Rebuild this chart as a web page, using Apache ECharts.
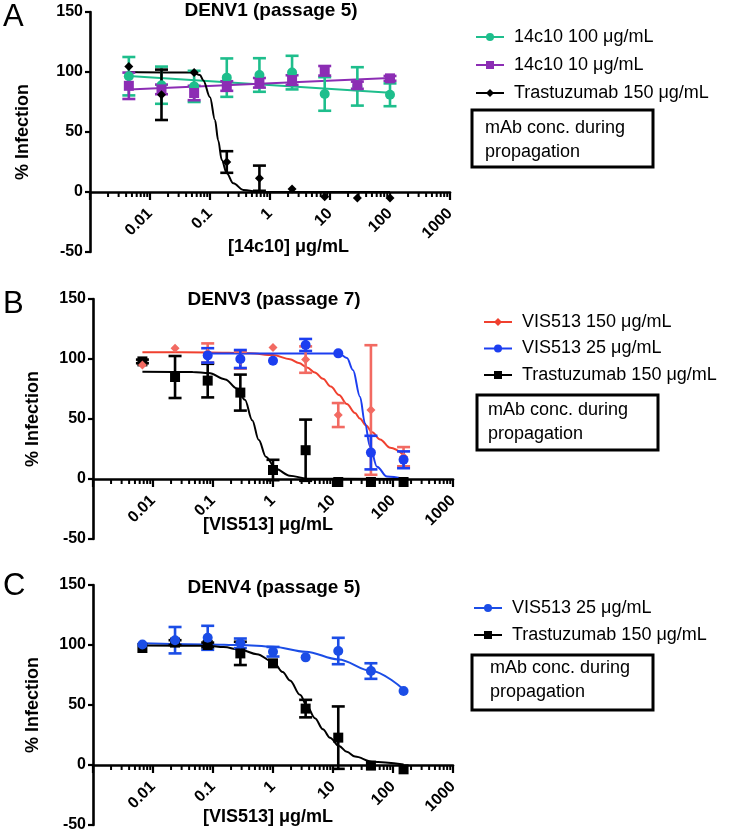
<!DOCTYPE html>
<html>
<head>
<meta charset="utf-8">
<script src="https://cdn.jsdelivr.net/npm/echarts@6/dist/echarts.min.js"></script>
<style>html,body{margin:0;padding:0;background:#fff}#main{width:729px;height:833px}</style>
</head>
<body>
<div id="main"></div>
<script>
// ---------- Panel A: DENV1 (passage 5) ----------
const concA = [0.00444, 0.01554, 0.0544, 0.1904, 0.6664, 2.332, 8.163, 28.57, 100];
const green100A = [96.5, 89, 88, 95.3, 97.5, 99.5, 81.7, 88, 81];
const green100ErrA = [16, 15.5, 13, 16, 14, 14, 14, 16, 9.5];
const purple10A = [88.5, 85.5, 82.5, 88.3, 91, 93.3, 101, 89, 94.7];
const purple10ErrA = [11, 4, 6, 4, 4, 4, 4, 3, 2];
const trastA = [104.5, 81, 99.5, 25, 11.5, 2.5, -4, -5, -5];
const trastErrA = [0, 21, 0, 9, 10.5, 0, 0, 0, 0];
const green100FitA = [[0.00444, 96.7], [100, 82.7]];
const purple10FitA = [[0.00444, 85.5], [100, 95]];
const trastFitA = [[0.00444, 100], [0.052, 99.5], [0.068, 97.5], [0.0773, 93], [0.1, 79], [0.121, 60], [0.137, 43], [0.157, 26.7], [0.19, 15.6], [0.245, 7.2], [0.359, 1.7], [0.68, 0], [100, 0]];

// ---------- Panel B: DENV3 (passage 7) ----------
const concB = [0.00666, 0.0233, 0.0816, 0.2856, 0.9996, 3.499, 12.24, 42.86, 150];
const vis150B = [95, 109, 105, 99, 109.5, 99.5, 53.3, 57.5, 18.6];
const vis150ErrB = [0, 0, 8, 7, 0, 11, 10, 54, 8];
const vis25B = [null, null, 103, 100, 98.6, 111.7, 104.7, 22, 16];
const vis25ErrB = [0, 0, 6, 7.5, 0, 5, 0, 14, 7];
const trastB = [98, 85, 82, 72, 7.5, 24, -2.5, -2.5, -2.5];
const trastErrB = [1.5, 17.5, 14, 15, 8.5, 25.5, 0, 0, 0];
const vis150FitB = [[0.00666, 105.6], [0.0816, 105.5], [0.414, 104.8], [1.0, 103.3], [1.92, 99.8], [2.7, 96.7], [3.7, 93], [5, 88.8], [6.8, 83.5], [9.2, 77], [12.6, 70], [17, 62.5], [23.3, 55], [28, 50.5], [35.7, 44.5], [45, 39], [61, 33], [90, 26], [150, 20]];
const vis25FitB = [[0.0816, 104.5], [12.6, 104.5], [17.1, 100.8], [21.5, 90.8], [28.2, 68.6], [34.1, 46.4], [41.4, 27], [54.1, 10.3], [79.4, 2], [150, 0.3]];
const trastFitB = [[0.00666, 89.4], [0.046, 89.2], [0.085, 88.3], [0.16, 83], [0.25, 75.5], [0.34, 66], [0.45, 49], [0.58, 32.5], [0.76, 18.6], [1.12, 8.3], [1.9, 2.8], [3.7, 0.3], [150, 0]];

// ---------- Panel C: DENV4 (passage 5) ----------
const concC = [0.00666, 0.0233, 0.0816, 0.2856, 0.9996, 3.499, 12.24, 42.86, 150];
const vis25C = [100.4, 104, 106, 101.4, 94.4, 89.7, 95, 78.3, 61.7];
const vis25ErrC = [0, 11, 10, 4, 4, 0, 11, 6.5, 0];
const trastC = [97.5, 102, 100, 93, 84.7, 47, 22.8, -0.5, -3.6];
const trastErrC = [0, 2, 2, 9.7, 0, 7.3, 26, 0, 0];
const vis25FitC = [[0.00666, 101.4], [0.0816, 100.5], [0.2856, 100], [1.0, 98.6], [3.5, 94.4], [12.24, 88], [42.86, 78.6], [150, 63]];
const trastFitC = [[0.00666, 99.5], [0.085, 99.3], [0.15, 98.3], [0.29, 96], [0.54, 92.3], [1.03, 85.5], [1.45, 77.5], [1.92, 70.5], [2.82, 58.5], [3.69, 49], [5, 39], [6.8, 29.8], [8.9, 22.8], [12.6, 15.8], [17, 11], [23.3, 7], [44.7, 2.8], [150, 0.5]];

// ---------- text ----------
const titles = ['DENV1 (passage 5)', 'DENV3 (passage 7)', 'DENV4 (passage 5)'];
const panelLetters = ['A', 'B', 'C'];
const xNames = ['[14c10] \u03bcg/mL', '[VIS513] \u03bcg/mL', '[VIS513] \u03bcg/mL'];
const yName = '% Infection';
const boxText = 'mAb conc. during\npropagation';
const yTicks = [-50, 0, 50, 100, 150];

// minor log ticks (axis decoration: 2..9 in each decade)
const minorTickVals = [];
for (let d = -3; d < 3; d++) for (let m = 2; m < 10; m++) minorTickVals.push(m * Math.pow(10, d));

const FONT = '"Liberation Sans", Arial, Helvetica, sans-serif';
const GREEN = '#1EBE8C', PURPLE = '#8C2DB4', RED = '#F0402F', REDPT = '#F26A62', BLUE = '#1C3EF0', BLUEC = '#1B4DE6', BLACK = '#000';

function pts(conc, vals) { return conc.map((c, i) => vals[i] == null ? null : [c, vals[i]]).filter(Boolean); }
function bars(conc, vals, errs) { return conc.map((c, i) => (vals[i] == null || !errs[i]) ? null : [c, vals[i] - errs[i], vals[i] + errs[i]]).filter(Boolean); }

function curve(name, data, color, symbol, k, smooth) {
  return { type: 'line', name, data, xAxisIndex: k, yAxisIndex: k, smooth: smooth ? 0.35 : false, smoothMonotone: 'x',
    showSymbol: false, symbol, symbolSize: 8, lineStyle: { color, width: 2 }, itemStyle: { color }, z: 3, silent: true, animation: false };
}
function errBars(data, color, k) {
  return { type: 'custom', data, xAxisIndex: k, yAxisIndex: k, encode: { x: 0, y: [1, 2] }, z: 4, silent: true, animation: false,
    renderItem: function (params, api) {
      const x = api.value(0), lo = api.value(1), hi = api.value(2);
      const a = api.coord([x, hi]), b = api.coord([x, lo]);
      const w = 6.5, st = { stroke: color, lineWidth: 2.6 };
      return { type: 'group', children: [
        { type: 'line', shape: { x1: a[0], y1: a[1], x2: b[0], y2: b[1] }, style: st },
        { type: 'line', shape: { x1: a[0] - w, y1: a[1], x2: a[0] + w, y2: a[1] }, style: st },
        { type: 'line', shape: { x1: b[0] - w, y1: b[1], x2: b[0] + w, y2: b[1] }, style: st }
      ] };
    } };
}
function points(data, color, symbol, size, k) {
  return { type: 'scatter', data, xAxisIndex: k, yAxisIndex: k, symbol, symbolSize: size, itemStyle: { color, opacity: 1 }, z: 5, silent: true, animation: false };
}
function minorTicks(k) {
  return { type: 'custom', data: minorTickVals.map(v => [v, 0]), xAxisIndex: k, yAxisIndex: k, z: 1, silent: true, animation: false,
    renderItem: function (params, api) {
      const p = api.coord([api.value(0), 0]);
      return { type: 'line', shape: { x1: p[0], y1: p[1], x2: p[0], y2: p[1] + 5 }, style: { stroke: '#000', lineWidth: 2 } };
    } };
}

const grids = [
  { left: 90, top: 12, width: 360, height: 240, outerBoundsMode: 'none', containLabel: false },
  { left: 93, top: 299, width: 360, height: 240, outerBoundsMode: 'none', containLabel: false },
  { left: 93, top: 585, width: 360, height: 240, outerBoundsMode: 'none', containLabel: false }
];
const yNameGaps = [58, 51, 51];

// x axis sits at y = 0, i.e. 50 of the 200 y-units (= 60 px of 240) above the grid bottom
const xAxes = grids.map((g, k) => ({
  type: 'log', logBase: 10, gridIndex: k, min: 0.001, max: 1000, splitNumber: 6,
  position: 'bottom', offset: -g.height * 50 / 200,
  axisLine: { onZero: false, lineStyle: { color: '#000', width: 2.6 } },
  axisTick: { show: true, length: 8, lineStyle: { color: '#000', width: 2.2 } },
  axisLabel: { rotate: 45, margin: 19, color: '#000', fontSize: 16, fontWeight: 'bold', fontFamily: FONT,
    formatter: v => v < 0.005 ? '' : String(Math.round(v * 1000) / 1000) },
  splitLine: { show: false }
}));
const yAxes = grids.map((g, k) => ({
  type: 'value', gridIndex: k, min: yTicks[0], max: yTicks[yTicks.length - 1], interval: 50,
  axisLine: { show: true, onZero: false, lineStyle: { color: '#000', width: 2.6 } },
  axisTick: { show: true, length: 5, lineStyle: { color: '#000', width: 2.2 } },
  axisLabel: { margin: 7, color: '#000', fontSize: 16, fontWeight: 'bold', fontFamily: FONT },
  splitLine: { show: false },
  name: yName, nameLocation: 'middle', nameGap: yNameGaps[k],
  nameTextStyle: { color: '#000', fontSize: 18, fontWeight: 'bold', fontFamily: FONT }
}));

const series = [
  // A
  curve('14c10 100 \u03bcg/mL', green100FitA, GREEN, 'circle', 0, false),
  curve('14c10 10 \u03bcg/mL', purple10FitA, PURPLE, 'rect', 0, false),
  curve('Trastuzumab 150 \u03bcg/mL ', trastFitA, BLACK, 'diamond', 0, true),
  errBars(bars(concA, green100A, green100ErrA), GREEN, 0),
  errBars(bars(concA, purple10A, purple10ErrA), PURPLE, 0),
  errBars(bars(concA, trastA, trastErrA), BLACK, 0),
  points(pts(concA, green100A), GREEN, 'circle', 10, 0),
  points(pts(concA, purple10A), PURPLE, 'rect', 10, 0),
  points(pts(concA, trastA), BLACK, 'diamond', 9, 0),
  minorTicks(0),
  // B
  curve('VIS513 150 \u03bcg/mL', vis150FitB, RED, 'diamond', 1, true),
  curve('VIS513 25 \u03bcg/mL', vis25FitB, BLUE, 'circle', 1, true),
  curve('Trastuzumab 150 \u03bcg/mL', trastFitB, BLACK, 'rect', 1, true),
  errBars(bars(concB, trastB, trastErrB), BLACK, 1),
  errBars(bars(concB, vis150B, vis150ErrB), REDPT, 1),
  errBars(bars(concB, vis25B, vis25ErrB), BLUE, 1),
  points(pts(concB, trastB), BLACK, 'rect', 10, 1),
  points(pts(concB, vis150B), REDPT, 'diamond', 9, 1),
  points(pts(concB, vis25B), BLUE, 'circle', 10, 1),
  minorTicks(1),
  // C
  curve('VIS513 25 \u03bcg/mL  ', vis25FitC, BLUEC, 'circle', 2, true),
  curve('Trastuzumab 150 \u03bcg/mL  ', trastFitC, BLACK, 'rect', 2, true),
  errBars(bars(concC, trastC, trastErrC), BLACK, 2),
  errBars(bars(concC, vis25C, vis25ErrC), BLUEC, 2),
  points(pts(concC, trastC), BLACK, 'rect', 10, 2),
  points(pts(concC, vis25C), BLUEC, 'circle', 10, 2),
  minorTicks(2)
];

function legend(names, left, top, gap) {
  return { data: names, left, top, orient: 'vertical', itemWidth: 28, itemHeight: 10, itemGap: gap, selectedMode: false,
    textStyle: { color: '#000', fontSize: 18, fontFamily: FONT, lineHeight: 20, padding: [0, 0, 0, 5] } };
}

const graphic = [];
const letterTops = [2, 289, 571];
panelLetters.forEach((L, k) => graphic.push({ type: 'text', left: 3, top: letterTops[k], style: { text: L, fontSize: 31, fontFamily: FONT, fill: '#000' } }));
// x-axis titles (placed under each axis)
const xNamePos = [[228, 238], [203, 516], [203, 808]];
xNames.forEach((t, k) => graphic.push({ type: 'text', x: xNamePos[k][0], y: xNamePos[k][1], style: { text: t, fontSize: 18, fontWeight: 'bold', fontFamily: FONT, fill: '#000' } }));
const boxes = [[472, 110, 181, 57, 485, 116], [477, 395, 181, 55, 488, 398], [472, 655, 181, 55, 490, 656]];
boxes.forEach(b => {
  graphic.push({ type: 'rect', shape: { x: b[0], y: b[1], width: b[2], height: b[3] }, style: { fill: 'none', stroke: '#000', lineWidth: 3 } });
  graphic.push({ type: 'text', x: b[4], y: b[5], style: { text: boxText, fontSize: 18, lineHeight: 24, fontFamily: FONT, fill: '#000' } });
});

const TSTYLE = { fontSize: 19, fontWeight: 'bold', fontFamily: FONT, color: '#000' };
const option = {
  backgroundColor: '#fff',
  animation: false,
  title: [
    { text: titles[0], left: 271, top: 1, textAlign: 'center', padding: 0, textStyle: TSTYLE },
    { text: titles[1], left: 274, top: 290, textAlign: 'center', padding: 0, textStyle: TSTYLE },
    { text: titles[2], left: 274, top: 578, textAlign: 'center', padding: 0, textStyle: TSTYLE }
  ],
  grid: grids,
  xAxis: xAxes,
  yAxis: yAxes,
  legend: [
    legend(['14c10 100 \u03bcg/mL', '14c10 10 \u03bcg/mL', 'Trastuzumab 150 \u03bcg/mL '], 470, 22, 8),
    legend(['VIS513 150 \u03bcg/mL', 'VIS513 25 \u03bcg/mL', 'Trastuzumab 150 \u03bcg/mL'], 478, 307, 6.5),
    legend(['VIS513 25 \u03bcg/mL  ', 'Trastuzumab 150 \u03bcg/mL  '], 468, 593, 7)
  ],
  graphic,
  series
};
const chart = echarts.init(document.getElementById('main'));
chart.setOption(option);
</script>
</body>
</html>
